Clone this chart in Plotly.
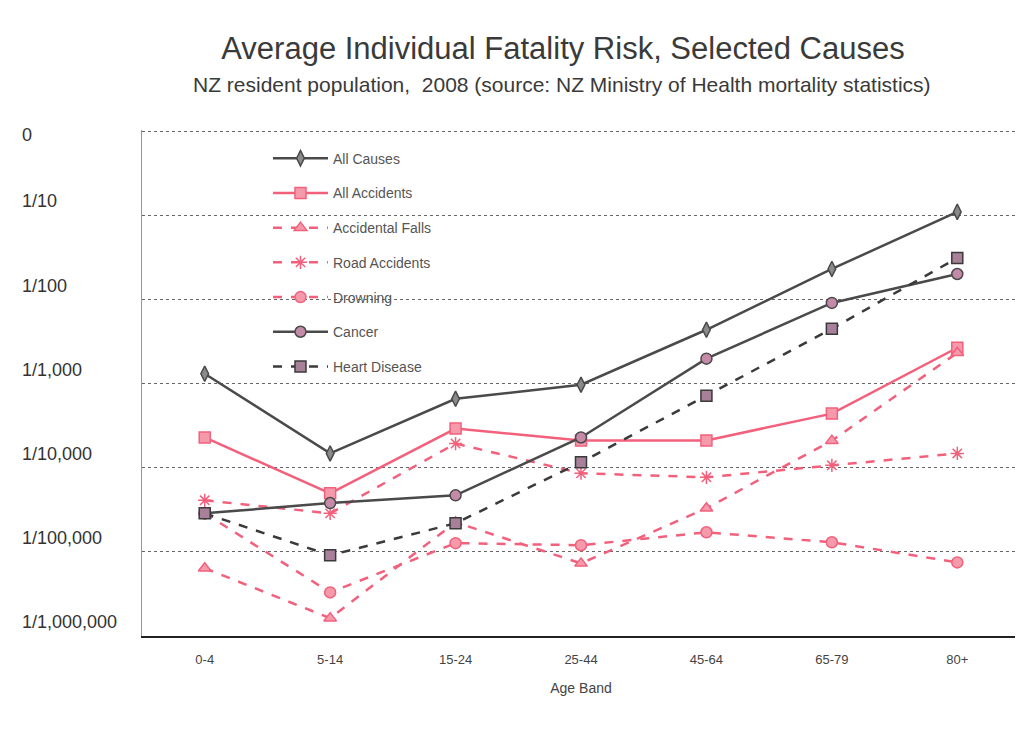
import math
import plotly.graph_objects as go

age_bands = ["0-4", "5-14", "15-24", "25-44", "45-64", "65-79", "80+"]

all_causes = [1.31e-3, 1.48e-4, 6.6e-4, 9.7e-4, 4.37e-3, 2.31e-2, 1.10e-1]
all_accidents = [2.29e-4, 4.96e-5, 2.92e-4, 2.11e-4, 2.11e-4, 4.4e-4, 2.67e-3]
accidental_falls = [6.4e-6, 1.63e-6, 2.25e-5, 7.3e-6, 3.3e-5, 2.1e-4, 2.33e-3]
road_accidents = [4.1e-5, 2.87e-5, 1.94e-4, 8.6e-5, 7.7e-5, 1.07e-4, 1.48e-4]
drowning = [2.87e-5, 3.3e-6, 1.27e-5, 1.2e-5, 1.71e-5, 1.3e-5, 7.5e-6]
cancer = [2.87e-5, 3.8e-5, 4.7e-5, 2.29e-4, 1.98e-3, 9.1e-3, 2.01e-2]
heart_disease = [2.87e-5, 9.1e-6, 2.19e-5, 1.16e-4, 7.2e-4, 4.49e-3, 3.12e-2]

tick_vals = [1e-6, 1e-5, 1e-4, 1e-3, 1e-2, 1e-1, 1]
tick_text = ["1/1,000,000", "1/100,000", "1/10,000", "1/1,000", "1/100", "1/10", "0"]

FONT = "Liberation Sans, Arial, sans-serif"
PINK = "#f2607c"
DARK = "#4a4a4a"

series = [
    ("All Causes", all_causes, DARK, "solid", "diamond-tall", "#8a8a8a"),
    ("All Accidents", all_accidents, PINK, "solid", "square", "#f59aab"),
    ("Accidental Falls", accidental_falls, PINK, "dash", "triangle-up", "#f59aab"),
    ("Road Accidents", road_accidents, PINK, "dash", "asterisk", PINK),
    ("Drowning", drowning, PINK, "dash", "circle", "#f59aab"),
    ("Cancer", cancer, DARK, "solid", "circle", "#c48aa8"),
    ("Heart Disease", heart_disease, "#3a3a3a", "dash", "square", "#a8809a"),
]

fig = go.Figure()
for i, (name, vals, col, dash, sym, fill) in enumerate(series):
    fig.add_trace(go.Scatter(
        x=age_bands, y=vals, name=name, mode="lines+markers",
        legendgroup=str(i),
        line=dict(color=col, width=2.5, dash=dash),
        marker=dict(symbol=sym, size=11, color=fill,
                    line=dict(color=col, width=1.5)),
    ))

annotations = []
for v, t in zip(tick_vals, tick_text):
    annotations.append(dict(
        x=-0.139, xref="paper", xanchor="left",
        y=math.log10(v), yref="y", yanchor="middle",
        yshift=-4 if v == 1 else 14,
        text=t, showarrow=False,
        font=dict(family=FONT, size=18, color="#333333"),
    ))
annotations.append(dict(
    x=0.478, xref="paper", xanchor="center",
    y=1.089, yref="paper", yanchor="middle",
    text="NZ resident population,  2008 (source: NZ Ministry of Health mortality statistics)",
    showarrow=False,
    font=dict(family=FONT, size=21, color="#3a3a3a"),
))

fig.update_layout(
    width=1023, height=734,
    paper_bgcolor="white", plot_bgcolor="white",
    margin=dict(l=134, r=11, t=122, b=106),
    title=dict(
        text="Average Individual Fatality Risk, Selected Causes",
        x=0.5425, xref="container", xanchor="center",
        y=0.9455, yref="container", yanchor="middle",
        font=dict(family=FONT, size=31, color="#3a3a3a"),
    ),
    font=dict(family=FONT, color="#444444"),
    xaxis=dict(
        type="category", range=[-0.5, 6.5],
        showgrid=False, showline=True, linecolor="#222222", linewidth=2,
        ticks="", ticklabelstandoff=10,
        tickfont=dict(family=FONT, size=13, color="#444444"),
        title=dict(text="Age Band", font=dict(family=FONT, size=14, color="#444444"), standoff=18),
    ),
    yaxis=dict(
        type="log", range=[-6, 0.015],
        tickvals=tick_vals, showticklabels=False,
        showgrid=True, gridcolor="#666666", griddash="dot", gridwidth=1,
        showline=True, linecolor="#9a90b0", linewidth=1,
        zeroline=False,
    ),
    legend=dict(
        x=0.1435, xanchor="left", y=0.975, yanchor="top",
        bgcolor="rgba(0,0,0,0)", tracegroupgap=13.5,
        font=dict(family=FONT, size=14, color="#555555"),
        itemwidth=55,
    ),
    annotations=annotations,
)

fig.write_html("out.html")
